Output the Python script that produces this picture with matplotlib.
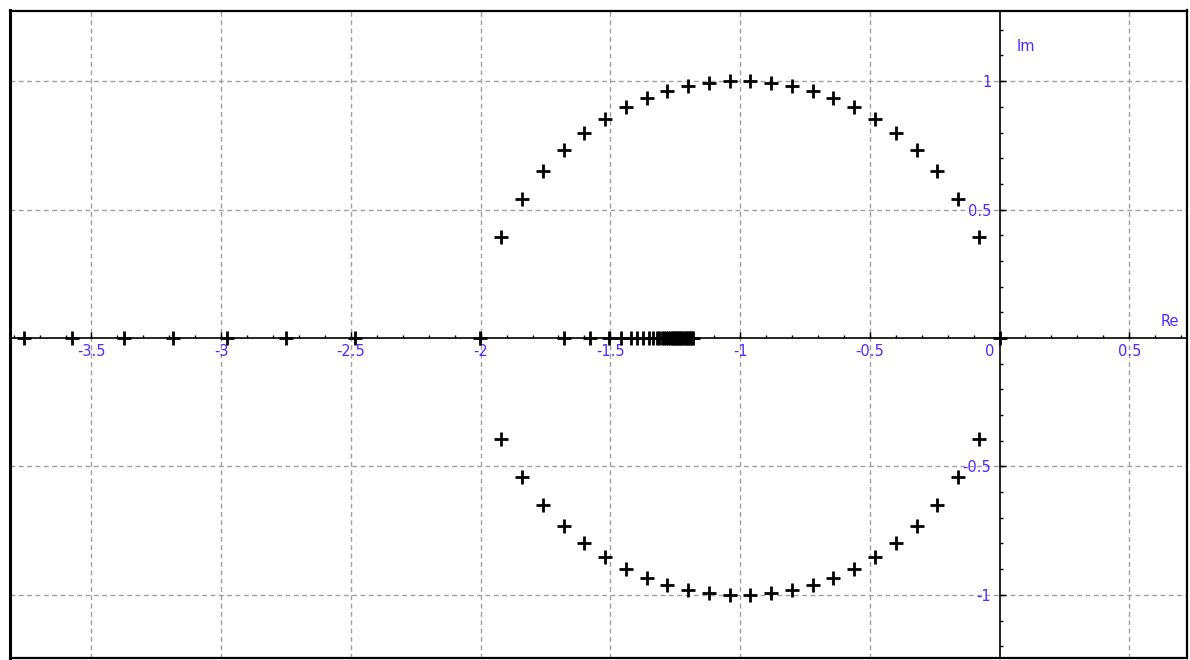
import numpy as np
import matplotlib
matplotlib.use("Agg")
import matplotlib.pyplot as plt
from matplotlib.lines import TICKUP, TICKRIGHT

# Roots on the real axis
real_roots = [
    -3.76, -3.575, -3.376, -3.186, -2.978, -2.749, -2.486, -2.004,
    -1.677, -1.578, -1.507, -1.458, -1.422, -1.399, -1.374, -1.353,
    -1.335, -1.322, -1.311, -1.300, -1.292, -1.284, -1.277, -1.270,
    -1.264, -1.258, -1.252, -1.246, -1.240, -1.234, -1.228, -1.222,
    -1.216, -1.210, -1.204, -1.198, -1.192, -1.186, -1.180, 0.0,
]

# Complex-conjugate root pairs (real part, positive imaginary part)
complex_re = [
    -1.92, -1.84, -1.76, -1.68, -1.60, -1.52, -1.44, -1.36, -1.28, -1.20,
    -1.12, -1.04, -0.96, -0.88, -0.80, -0.72, -0.64, -0.56, -0.48, -0.40,
    -0.32, -0.24, -0.16, -0.08,
]
complex_im = [
    0.392, 0.543, 0.650, 0.733, 0.800, 0.854, 0.898, 0.933, 0.960, 0.980,
    0.993, 0.999, 0.999, 0.993, 0.980, 0.960, 0.933, 0.898, 0.854, 0.800,
    0.733, 0.650, 0.543, 0.392,
]

x_labels = ["-3.5", "-3", "-2.5", "-2", "-1.5", "-1", "-0.5", "0", "0.5"]
x_label_vals = [-3.5, -3.0, -2.5, -2.0, -1.5, -1.0, -0.5, 0.0, 0.5]
y_labels = ["1", "0.5", "-0.5", "-1"]
y_label_vals = [1.0, 0.5, -0.5, -1.0]

label_color = "#4a2cff"
grid_color = "#a0a0a0"

fig = plt.figure(figsize=(11.9, 6.6), dpi=100)
ax = fig.add_axes([10 / 1190, 2 / 660, 1177 / 1190, 647.5 / 660])
ax.set_xlim(-3.814, 0.7225)
ax.set_ylim(-1.246, 1.275)
ax.set_xticks([])
ax.set_yticks([])
for name, sp in ax.spines.items():
    sp.set_color("black")
    sp.set_linewidth(1.6)
ax.spines["left"].set_linewidth(2.2)

# dashed grid every 0.5
for gx in x_label_vals:
    if gx != 0:
        ax.axvline(gx, color=grid_color, lw=1.0, dashes=(3.5, 2.5), zorder=1)
for gy in y_label_vals:
    ax.axhline(gy, color=grid_color, lw=1.0, dashes=(3.5, 2.5), zorder=1)

# coordinate axes through the origin
ax.axhline(0, color="black", lw=1.2, zorder=2)
ax.axvline(0, color="black", lw=1.2, zorder=2)

# small ticks along the axes
xt_minor = np.round(np.arange(-3.8, 0.75, 0.1), 2)
yt_minor = np.round(np.arange(-1.2, 1.25, 0.1), 2)
ax.plot(xt_minor, np.zeros_like(xt_minor), ls="none", marker=TICKUP,
        ms=2.5, mew=1.0, color="black", zorder=2)
ax.plot(x_label_vals, np.zeros(len(x_label_vals)), ls="none", marker=TICKUP,
        ms=4.5, mew=1.0, color="black", zorder=2)
ax.plot(np.zeros_like(yt_minor), yt_minor, ls="none", marker=TICKRIGHT,
        ms=2.5, mew=1.0, color="black", zorder=2)
ax.plot(np.zeros(len(y_label_vals)), y_label_vals, ls="none", marker=TICKRIGHT,
        ms=4.5, mew=1.0, color="black", zorder=2)

# tick labels
for v, s in zip(x_label_vals, x_labels):
    dx = -7 if v == 0 else 0
    ax.annotate(s, (v, 0), xytext=(dx, -4.5), textcoords="offset points",
                ha="center", va="top", color=label_color, fontsize=10.5,
                family="DejaVu Sans")
for v, s in zip(y_label_vals, y_labels):
    ax.annotate(s, (0, v), xytext=(-6, 0), textcoords="offset points",
                ha="right", va="center_baseline", color=label_color,
                fontsize=10.5, family="DejaVu Sans")

ax.text(0.102, 1.135, "Im", color=label_color, fontsize=10.5,
        ha="center", va="center")
ax.text(0.657, 0.065, "Re", color=label_color, fontsize=10.5,
        ha="center", va="center")

# roots
mk = dict(ls="none", marker="+", ms=9.5, mew=2.0, color="black", zorder=3,
          clip_on=False)
ax.plot(real_roots, np.zeros(len(real_roots)), **mk)
ax.plot(complex_re, complex_im, **mk)
ax.plot(complex_re, -np.asarray(complex_im), **mk)

fig.savefig("out.png", dpi=100, facecolor="white")
